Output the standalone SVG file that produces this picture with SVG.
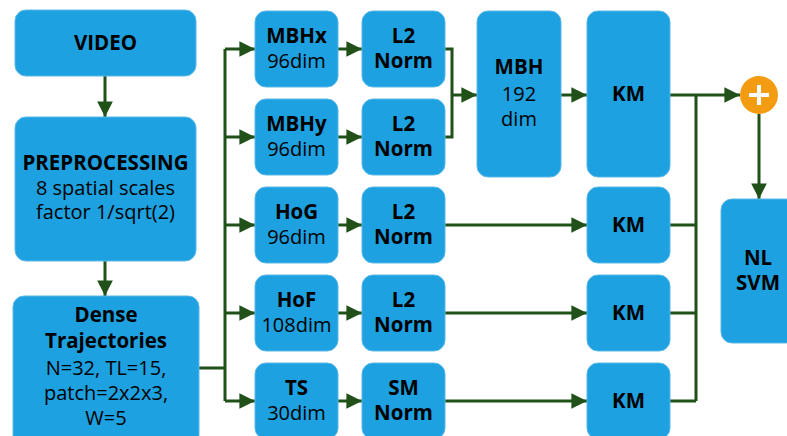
<svg xmlns="http://www.w3.org/2000/svg" width="787" height="436" viewBox="0 0 787 436">
<defs>
<style>
.box{fill:#1DA1E0;stroke:#5BB8E8;stroke-width:1}
text{font-family:"Open Sans","Noto Sans",sans-serif;font-size:20px;fill:#000;text-anchor:middle}
.b{font-weight:bold;font-size:20.5px}
.ln{fill:none;stroke:#1F5119;stroke-width:3}
.ar{fill:none;stroke:#1F5119;stroke-width:3;marker-end:url(#ah)}
</style>
<marker id="ah" viewBox="0 0 10 10" refX="10" refY="5" markerWidth="5.5" markerHeight="5.2" markerUnits="strokeWidth" orient="auto">
<path d="M0,0 L10,5 L0,10 z" fill="#1F5119"/>
</marker>
</defs>
<rect width="787" height="436" fill="#fff"/>
<g id="connectors">
<path class="ar" d="M105,76 V117"/>
<path class="ar" d="M105,261 V296"/>
<path class="ln" d="M199,368 H225 M225,49 V401"/>
<path class="ar" d="M225,49 H255"/>
<path class="ar" d="M225,137 H255"/>
<path class="ar" d="M225,225 H255"/>
<path class="ar" d="M225,313 H255"/>
<path class="ar" d="M225,401 H255"/>
<path class="ar" d="M338,49 H362"/>
<path class="ar" d="M338,137 H362"/>
<path class="ar" d="M338,225 H362"/>
<path class="ar" d="M338,313 H362"/>
<path class="ar" d="M338,401 H362"/>
<path class="ln" d="M445,49 H452 V137 H445"/>
<path class="ar" d="M452,95 H477"/>
<path class="ar" d="M561,95 H587"/>
<path class="ar" d="M445,225 H587"/>
<path class="ar" d="M445,313 H587"/>
<path class="ar" d="M445,401 H587"/>
<path class="ar" d="M670,95 H740"/>
<path class="ln" d="M696,95 V401 M670,225 H696 M670,313 H696 M670,401 H696"/>
<path class="ar" d="M759,114 V199"/>
</g>
<g id="video"><rect class="box" x="15" y="10" width="181" height="66" rx="11"/><text class="b" x="105.5" y="50">VIDEO</text></g>
<g id="preprocessing"><rect class="box" x="15" y="117" width="181" height="144" rx="11"/><text class="b" x="105.5" y="170">PREPROCESSING</text><text x="105.5" y="195">8 spatial scales</text><text x="105.5" y="219">factor 1/sqrt(2)</text></g>
<g id="dense"><rect class="box" x="13" y="296" width="186" height="150" rx="11"/><text class="b" x="106" y="322">Dense</text><text class="b" x="106" y="348">Trajectories</text><text x="106" y="375">N=32, TL=15,</text><text x="106" y="400">patch=2x2x3,</text><text x="106" y="425">W=5</text></g>
<g id="mbhx"><rect class="box" x="255" y="11" width="83" height="76" rx="11"/><text class="b" x="296.5" y="43">MBHx</text><text x="296.5" y="68">96dim</text></g>
<g id="mbhy"><rect class="box" x="255" y="99" width="83" height="76" rx="11"/><text class="b" x="296.5" y="131">MBHy</text><text x="296.5" y="156">96dim</text></g>
<g id="hog"><rect class="box" x="255" y="187" width="83" height="76" rx="11"/><text class="b" x="296.5" y="219">HoG</text><text x="296.5" y="244">96dim</text></g>
<g id="hof"><rect class="box" x="255" y="275" width="83" height="76" rx="11"/><text class="b" x="296.5" y="307">HoF</text><text x="296.5" y="332">108dim</text></g>
<g id="ts"><rect class="box" x="255" y="363" width="83" height="76" rx="11"/><text class="b" x="296.5" y="395">TS</text><text x="296.5" y="420">30dim</text></g>
<g id="norm1"><rect class="box" x="362" y="11" width="83" height="76" rx="11"/><text class="b" x="403.5" y="43">L2</text><text class="b" x="403.5" y="68">Norm</text></g>
<g id="norm2"><rect class="box" x="362" y="99" width="83" height="76" rx="11"/><text class="b" x="403.5" y="131">L2</text><text class="b" x="403.5" y="156">Norm</text></g>
<g id="norm3"><rect class="box" x="362" y="187" width="83" height="76" rx="11"/><text class="b" x="403.5" y="219">L2</text><text class="b" x="403.5" y="244">Norm</text></g>
<g id="norm4"><rect class="box" x="362" y="275" width="83" height="76" rx="11"/><text class="b" x="403.5" y="307">L2</text><text class="b" x="403.5" y="332">Norm</text></g>
<g id="norm5"><rect class="box" x="362" y="363" width="83" height="76" rx="11"/><text class="b" x="403.5" y="395">SM</text><text class="b" x="403.5" y="420">Norm</text></g>
<g id="mbh"><rect class="box" x="477" y="11" width="84" height="166" rx="11"/><text class="b" x="519" y="74">MBH</text><text x="519" y="101">192</text><text x="519" y="126">dim</text></g>
<g id="km1"><rect class="box" x="587" y="11" width="83" height="166" rx="11"/><text class="b" x="628.5" y="101">KM</text></g>
<g id="km2"><rect class="box" x="587" y="187" width="83" height="76" rx="11"/><text class="b" x="628.5" y="232">KM</text></g>
<g id="km3"><rect class="box" x="587" y="275" width="83" height="76" rx="11"/><text class="b" x="628.5" y="320">KM</text></g>
<g id="km4"><rect class="box" x="587" y="363" width="83" height="76" rx="11"/><text class="b" x="628.5" y="408">KM</text></g>
<g id="sum"><circle cx="759" cy="95" r="19" fill="#F39C12"/><path d="M749,95 H769 M759,85 V105" stroke="#fff" stroke-width="4"/></g>
<g id="svm"><rect class="box" x="721" y="199" width="76" height="144" rx="11"/><text class="b" x="758" y="265">NL</text><text class="b" x="758" y="290">SVM</text></g>
</svg>
